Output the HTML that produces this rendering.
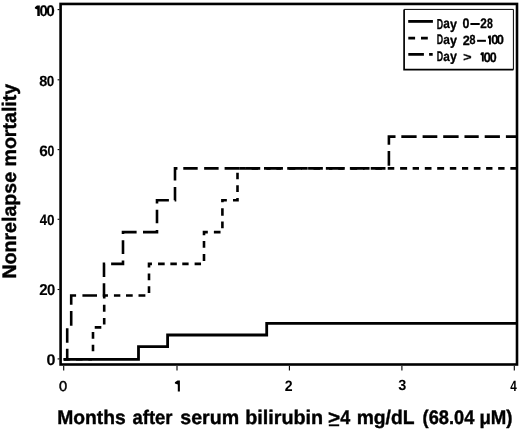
<!DOCTYPE html>
<html><head><meta charset="utf-8">
<style>
html,body{margin:0;padding:0;background:#fff;}
body{width:520px;height:429px;overflow:hidden;}
svg{display:block;will-change:transform;}
text{font-family:"Liberation Sans",sans-serif;fill:#000;text-rendering:geometricPrecision;}
</style></head>
<body>
<svg width="520" height="429" viewBox="0 0 520 429">
<rect x="60.6" y="3.95" width="456.4" height="360.55" fill="none" stroke="#000" stroke-width="2.6"/>
<g stroke="#000" stroke-width="1.1">
<line x1="57.6" y1="9.6" x2="59.5" y2="9.6"/>
<line x1="57.6" y1="79.8" x2="59.5" y2="79.8"/>
<line x1="57.6" y1="149.6" x2="59.5" y2="149.6"/>
<line x1="57.6" y1="219.3" x2="59.5" y2="219.3"/>
<line x1="57.6" y1="289.5" x2="59.5" y2="289.5"/>
<line x1="57.6" y1="358.9" x2="59.5" y2="358.9"/>
<line x1="63.7" y1="366" x2="63.7" y2="370.6"/>
<line x1="177" y1="366" x2="177" y2="370.6"/>
<line x1="289.4" y1="366" x2="289.4" y2="370.6"/>
<line x1="401.9" y1="366" x2="401.9" y2="370.6"/>
<line x1="514.3" y1="366" x2="514.3" y2="370.6"/>
</g>
<path d="M37.00 5.60 L39.80 5.60 L39.80 16.10 L37.30 16.10 L37.30 9.38 L34.90 8.44 L34.90 7.17Z"/>
<text x="39.48" y="16.27" font-size="15.25" font-weight="bold" textLength="8.25" lengthAdjust="spacingAndGlyphs" stroke="#000" stroke-width="0.15" stroke-linejoin="round">0</text>
<text x="46.26" y="16.27" font-size="15.25" font-weight="bold" textLength="8.49" lengthAdjust="spacingAndGlyphs" stroke="#000" stroke-width="0.15" stroke-linejoin="round">0</text>
<text x="39.31" y="85.58" font-size="14.76" font-weight="bold" textLength="8.07" lengthAdjust="spacingAndGlyphs" stroke="#000" stroke-width="0.15" stroke-linejoin="round">8</text>
<text x="46.83" y="85.58" font-size="14.76" font-weight="bold" textLength="7.55" lengthAdjust="spacingAndGlyphs" stroke="#000" stroke-width="0.15" stroke-linejoin="round">0</text>
<text x="39.35" y="155.57" font-size="15.04" font-weight="bold" textLength="8.64" lengthAdjust="spacingAndGlyphs" stroke="#000" stroke-width="0.15" stroke-linejoin="round">6</text>
<text x="47.48" y="155.57" font-size="15.04" font-weight="bold" textLength="6.85" lengthAdjust="spacingAndGlyphs" stroke="#000" stroke-width="0.15" stroke-linejoin="round">0</text>
<text x="39.73" y="225.32" font-size="15.19" font-weight="bold" textLength="7.26" lengthAdjust="spacingAndGlyphs" stroke="#000" stroke-width="0.15" stroke-linejoin="round">4</text>
<text x="47.03" y="225.18" font-size="14.76" font-weight="bold" textLength="7.55" lengthAdjust="spacingAndGlyphs" stroke="#000" stroke-width="0.15" stroke-linejoin="round">0</text>
<text x="39.35" y="295.23" font-size="15.69" font-weight="bold" textLength="8.38" lengthAdjust="spacingAndGlyphs" stroke="#000" stroke-width="0.15" stroke-linejoin="round">2</text>
<text x="46.88" y="295.07" font-size="15.47" font-weight="bold" textLength="8.25" lengthAdjust="spacingAndGlyphs" stroke="#000" stroke-width="0.15" stroke-linejoin="round">0</text>
<text x="46.43" y="364.67" font-size="15.47" font-weight="bold" textLength="8.96" lengthAdjust="spacingAndGlyphs" stroke="#000" stroke-width="0.15" stroke-linejoin="round">0</text>
<text x="59.03" y="390.96" font-size="14.27" font-weight="normal" textLength="8.14" lengthAdjust="spacingAndGlyphs" stroke="#000" stroke-width="0.5" stroke-linejoin="round">0</text>
<path d="M177.50 380.50 L179.90 380.50 L179.90 391.40 L177.80 391.40 L177.80 384.42 L174.90 383.44 L174.90 382.13Z"/>
<text x="284.81" y="390.80" font-size="15.04" font-weight="bold" textLength="7.86" lengthAdjust="spacingAndGlyphs">2</text>
<text x="398.27" y="390.44" font-size="14.81" font-weight="bold" textLength="8.06" lengthAdjust="spacingAndGlyphs">3</text>
<text x="510.32" y="390.50" font-size="14.83" font-weight="bold" textLength="6.54" lengthAdjust="spacingAndGlyphs">4</text>
<text font-size="19.6" font-weight="bold" stroke="#000" stroke-width="0.4" transform="translate(15.9,278.6) rotate(-90)" textLength="194.8" lengthAdjust="spacingAndGlyphs">Nonrelapse mortality</text>
<text x="57.21" y="423.7" font-size="19.6" font-weight="bold" textLength="68.58" lengthAdjust="spacingAndGlyphs" stroke="#000" stroke-width="0.4">Months</text>
<text x="132.56" y="423.7" font-size="19.6" font-weight="bold" textLength="40.02" lengthAdjust="spacingAndGlyphs" stroke="#000" stroke-width="0.4">after</text>
<text x="180.31" y="423.7" font-size="19.6" font-weight="bold" textLength="58.81" lengthAdjust="spacingAndGlyphs" stroke="#000" stroke-width="0.4">serum</text>
<text x="245.20" y="423.7" font-size="19.6" font-weight="bold" textLength="77.93" lengthAdjust="spacingAndGlyphs" stroke="#000" stroke-width="0.4">bilirubin</text>
<text x="327.93" y="423.7" font-size="19.6" font-weight="bold" textLength="12.12" lengthAdjust="spacingAndGlyphs" stroke="#000" stroke-width="0.4">&gt;</text>
<text x="340.33" y="423.7" font-size="19.6" font-weight="bold" textLength="9.96" lengthAdjust="spacingAndGlyphs" stroke="#000" stroke-width="0.4">4</text>
<text x="356.63" y="423.7" font-size="19.6" font-weight="bold" textLength="57.86" lengthAdjust="spacingAndGlyphs" stroke="#000" stroke-width="0.4">mg/dL</text>
<text x="422.59" y="423.7" font-size="19.6" font-weight="bold" textLength="51.71" lengthAdjust="spacingAndGlyphs" stroke="#000" stroke-width="0.4">(68.04</text>
<text x="479.40" y="423.7" font-size="19.6" font-weight="bold" textLength="33.13" lengthAdjust="spacingAndGlyphs" stroke="#000" stroke-width="0.4">μM)</text>
<line x1="328.8" y1="425.3" x2="339.2" y2="425.3" stroke="#000" stroke-width="1.9"/>
<g fill="none" stroke="#000" stroke-width="2.6" stroke-linejoin="miter">
<path stroke-width="2.8" d="M63.7 359.3H138.5V346.6H167.6V335H266.7V323.3H516"/>
<path d="M63.70 359.30L70.20 359.30M75.98 359.30L82.54 359.30M88.32 359.30L92.0 359.30M93.00 351.24L93.00 344.67M93.00 338.84L93.00 331.99M94.73 327.40L101.33 327.40M104.20 324.50L104.20 318.02M104.20 311.81L104.20 304.79M104.20 298.58L104.20 295.50L107.95 295.50M113.93 295.50L120.33 295.50M126.03 295.50L132.71 295.50M138.51 295.50L145.37 295.50M149.00 292.94L149.00 286.23M149.00 280.23L149.00 273.49M149.00 267.43L149.00 263.90L151.95 263.90M158.05 263.90L164.69 263.90M170.35 263.90L176.83 263.90M182.27 263.90L188.61 263.90M194.61 263.90L201.03 263.90M204.00 261.05L204.00 253.91M204.00 247.66L204.00 240.94M204.00 235.13L204.00 232.10L207.82 232.10M213.88 232.10L220.54 232.10M222.40 228.14L222.40 221.55M222.40 215.72L222.40 208.37M222.40 202.37L222.40 200.30L226.85 200.30M233.01 200.30L237.50 200.30L237.50 198.10M237.50 191.99L237.50 185.15M237.50 179.24L237.50 172.65M239.26 168.40L245.82 168.40M251.64 168.40L258.20 168.40M264.00 168.40L270.58 168.40M276.38 168.40L282.94 168.40M288.75 168.40L295.32 168.40M301.12 168.40L307.68 168.40M313.50 168.40L320.06 168.40M325.86 168.40L332.42 168.40M338.25 168.40L344.80 168.40M350.60 168.40L357.18 168.40M362.99 168.40L369.54 168.40M375.35 168.40L381.92 168.40M387.73 168.40L394.28 168.40M400.11 168.40L407.11 168.40M412.64 168.40L418.99 168.40M424.81 168.40L431.50 168.40M437.19 168.40L444.14 168.40M449.85 168.40L456.28 168.40M461.99 168.40L468.21 168.40M473.81 168.40L480.49 168.40M486.11 168.40L492.45 168.40M498.17 168.40L504.57 168.40M510.37 168.40L516.00 168.40"/>
<path d="M63.70 359.30L67.20 359.30L67.20 348.84M67.20 342.64L67.20 328.20M71.20 325.68L71.20 311.12M71.20 304.86L71.20 295.50L76.10 295.50M82.42 295.50L97.02 295.50M102.66 295.50L104.00 295.50L104.00 283.24M104.00 277.04L104.00 263.90L105.18 263.90M111.12 263.90L123.00 263.90L123.00 260.42M123.00 253.96L123.00 240.14M123.00 233.94L123.00 232.10L136.62 232.10M143.00 232.10L157.00 232.10L157.00 229.98M157.00 223.30L157.00 209.64M157.00 203.44L157.00 200.30L168.90 200.30M174.64 200.30L175.00 200.30L175.00 186.88M175.00 180.50L175.00 168.40L177.44 168.40M183.28 168.40L197.68 168.40M204.14 168.40L218.62 168.40M224.60 168.40L239.34 168.40M245.48 168.40L260.22 168.40M266.34 168.40L281.10 168.40M287.22 168.40L301.98 168.40M308.10 168.40L322.86 168.40M328.98 168.40L343.74 168.40M349.86 168.40L364.60 168.40M370.72 168.40L385.48 168.40M388.90 165.70L388.90 150.94M388.90 144.74L388.90 136.60L395.52 136.60M401.32 136.60L416.62 136.60M422.60 136.60L437.32 136.60M443.20 136.60L458.62 136.60M464.48 136.60L478.72 136.60M484.70 136.60L499.92 136.60M505.90 136.60L516.00 136.60"/>
</g>
<g stroke="#000" fill="none">
<path d="M404.1 9.4H513.4V69.7" stroke-width="1.0"/>
<path d="M404.1 9.4V69.7H513.4" stroke-width="1.7"/>
</g>
<g stroke="#000" stroke-width="2.8">
<line x1="408.2" y1="21.4" x2="432.9" y2="21.4"/>
<line x1="408.3" y1="38.05" x2="433" y2="38.05" stroke-dasharray="6.8 5.9"/>
<line x1="408.3" y1="54.3" x2="432.7" y2="54.3" stroke-dasharray="15.6 5.2"/>
</g>
<text x="436.76" y="28.55" font-size="14.39" font-weight="bold" textLength="6.36" lengthAdjust="spacingAndGlyphs" stroke="#000" stroke-width="0.3" stroke-linejoin="round">D</text>
<text x="443.21" y="28.41" font-size="13.87" font-weight="bold" textLength="6.57" lengthAdjust="spacingAndGlyphs" stroke="#000" stroke-width="0.3" stroke-linejoin="round">a</text>
<text x="449.95" y="28.55" font-size="14.40" font-weight="bold" textLength="6.96" lengthAdjust="spacingAndGlyphs" stroke="#000" stroke-width="0.3" stroke-linejoin="round">y</text>
<text x="462.55" y="28.41" font-size="13.84" font-weight="bold" textLength="6.91" lengthAdjust="spacingAndGlyphs" stroke="#000" stroke-width="0.3" stroke-linejoin="round">0</text>
<text x="480.14" y="28.45" font-size="13.90" font-weight="bold" textLength="6.59" lengthAdjust="spacingAndGlyphs" stroke="#000" stroke-width="0.3" stroke-linejoin="round">2</text>
<text x="487.01" y="28.41" font-size="13.84" font-weight="bold" textLength="5.87" lengthAdjust="spacingAndGlyphs" stroke="#000" stroke-width="0.3" stroke-linejoin="round">8</text>
<rect x="470.4" y="23.0" width="9.3" height="2.0"/>
<text x="436.76" y="44.45" font-size="13.81" font-weight="bold" textLength="6.36" lengthAdjust="spacingAndGlyphs" stroke="#000" stroke-width="0.3" stroke-linejoin="round">D</text>
<text x="443.21" y="44.32" font-size="13.14" font-weight="bold" textLength="6.57" lengthAdjust="spacingAndGlyphs" stroke="#000" stroke-width="0.3" stroke-linejoin="round">a</text>
<text x="449.95" y="44.57" font-size="13.86" font-weight="bold" textLength="6.96" lengthAdjust="spacingAndGlyphs" stroke="#000" stroke-width="0.3" stroke-linejoin="round">y</text>
<text x="462.71" y="44.55" font-size="13.32" font-weight="bold" textLength="7.05" lengthAdjust="spacingAndGlyphs" stroke="#000" stroke-width="0.3" stroke-linejoin="round">2</text>
<text x="469.61" y="44.42" font-size="13.14" font-weight="bold" textLength="5.98" lengthAdjust="spacingAndGlyphs" stroke="#000" stroke-width="0.3" stroke-linejoin="round">8</text>
<rect x="477.1" y="39.8" width="8.8" height="2.0"/>
<path d="M488.70 35.50 L490.90 35.50 L490.90 44.40 L489.00 44.40 L489.00 38.70 L487.90 37.90 L487.90 36.84Z"/>
<text x="491.34" y="44.42" font-size="13.14" font-weight="bold" textLength="7.14" lengthAdjust="spacingAndGlyphs" stroke="#000" stroke-width="0.3" stroke-linejoin="round">0</text>
<text x="496.84" y="44.42" font-size="13.14" font-weight="bold" textLength="7.14" lengthAdjust="spacingAndGlyphs" stroke="#000" stroke-width="0.3" stroke-linejoin="round">0</text>
<text x="436.76" y="60.65" font-size="14.10" font-weight="bold" textLength="6.36" lengthAdjust="spacingAndGlyphs" stroke="#000" stroke-width="0.3" stroke-linejoin="round">D</text>
<text x="443.21" y="60.51" font-size="13.50" font-weight="bold" textLength="6.57" lengthAdjust="spacingAndGlyphs" stroke="#000" stroke-width="0.3" stroke-linejoin="round">a</text>
<text x="449.95" y="60.71" font-size="14.13" font-weight="bold" textLength="6.96" lengthAdjust="spacingAndGlyphs" stroke="#000" stroke-width="0.3" stroke-linejoin="round">y</text>
<text x="463.15" y="61.46" font-size="11.69" font-weight="bold" textLength="8.28" lengthAdjust="spacingAndGlyphs" stroke="#000" stroke-width="0.3" stroke-linejoin="round">&gt;</text>
<path d="M481.60 52.30 L483.80 52.30 L483.80 61.50 L481.90 61.50 L481.90 55.61 L480.40 54.78 L480.40 53.68Z"/>
<text x="483.62" y="61.71" font-size="13.70" font-weight="bold" textLength="7.38" lengthAdjust="spacingAndGlyphs" stroke="#000" stroke-width="0.3" stroke-linejoin="round">0</text>
<text x="489.85" y="61.71" font-size="13.70" font-weight="bold" textLength="6.91" lengthAdjust="spacingAndGlyphs" stroke="#000" stroke-width="0.3" stroke-linejoin="round">0</text>
</svg>
</body></html>
